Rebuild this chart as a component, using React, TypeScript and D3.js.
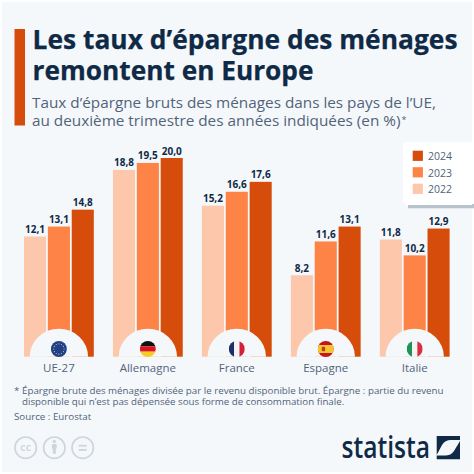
import React from "react";
import * as d3 from "d3";

const categories = ["UE-27", "Allemagne", "France", "Espagne", "Italie"];
const years = ["2022", "2023", "2024"];
const values2022 = [12.1, 18.8, 15.2, 8.2, 11.8];
const values2023 = [13.1, 19.5, 16.6, 11.6, 10.2];
const values2024 = [14.8, 20.0, 17.6, 13.1, 12.9];
const colors = ["#fdc7ac", "#fd8446", "#d64c0a"];
const titleLines = ["Les taux d’épargne des ménages", "remontent en Europe"];
const titleWidths = [425, 281];
const subtitleLines = ["Taux d’épargne bruts des ménages dans les pays de l’UE,", "au deuxième trimestre des années indiquées (en %)"];
const noteLines = ["Épargne brute des ménages divisée par le revenu disponible brut. Épargne : partie du revenu", "disponible qui n’est pas dépensée sous forme de consommation finale."];

const F = "'Open Sans', sans-serif";
const NAVY = "#0f2a46";
const GREY = "#52637a";
const BG = "#f5f8fb";

const x0 = d3.scaleBand<string>().domain(categories).range([24, 449.6]).paddingInner(19.2 / 89.2).paddingOuter(0);
const x1 = d3.scaleBand<string>().domain(years).range([0, x0.bandwidth()]).paddingInner(0.075).paddingOuter(0);
const y = d3.scaleLinear().domain([0, 20]).range([356.7, 158]);
const series = [values2022, values2023, values2024];
const fmt = (v: number) => v.toFixed(1).replace(".", ",");

function Flag({ i, cx, cy }: { i: number; cx: number; cy: number }) {
  const r = 8;
  const id = `fc${i}`;
  const X = cx - r, Y = cy - r, S = 2 * r;
  let body: React.ReactNode = null;
  if (i === 0) {
    body = (
      <g>
        <rect x={X} y={Y} width={S} height={S} fill="#1f3f8f" />
        {d3.range(12).map((k) => (
          <circle key={k} cx={cx + 5.2 * Math.cos((k * Math.PI) / 6)} cy={cy + 5.2 * Math.sin((k * Math.PI) / 6)} r={0.6} fill="#e3c640" />
        ))}
      </g>
    );
  } else if (i === 1) {
    body = (
      <g>
        <rect x={X} y={Y} width={S} height={S / 3} fill="#111" />
        <rect x={X} y={Y + S / 3} width={S} height={S / 3} fill="#d8161c" />
        <rect x={X} y={Y + (2 * S) / 3} width={S} height={S / 3} fill="#fbcb25" />
      </g>
    );
  } else if (i === 2) {
    body = (
      <g>
        <rect x={X} y={Y} width={S / 3} height={S} fill="#1d2f66" />
        <rect x={X + S / 3} y={Y} width={S / 3} height={S} fill="#f4f4f4" />
        <rect x={X + (2 * S) / 3} y={Y} width={S / 3} height={S} fill="#d5203a" />
      </g>
    );
  } else if (i === 3) {
    body = (
      <g>
        <rect x={X} y={Y} width={S} height={S} fill="#c4161c" />
        <rect x={X} y={Y + S / 4} width={S} height={S / 2} fill="#f8c52c" />
        <rect x={cx - 4} y={cy - 2.2} width={3.4} height={4.4} rx={1} fill="#b5402a" />
      </g>
    );
  } else {
    body = (
      <g>
        <rect x={X} y={Y} width={S / 3} height={S} fill="#1d9455" />
        <rect x={X + S / 3} y={Y} width={S / 3} height={S} fill="#f4f4f4" />
        <rect x={X + (2 * S) / 3} y={Y} width={S / 3} height={S} fill="#d5303e" />
      </g>
    );
  }
  return (
    <g>
      <clipPath id={id}>
        <circle cx={cx} cy={cy} r={r} />
      </clipPath>
      <g clipPath={`url(#${id})`}>{body}</g>
    </g>
  );
}

export default function App() {
  return (
    <svg width={474} height={474} style={{ position: "fixed", left: 0, top: 0, background: "#fff" }} fontFamily={F}>
      <rect x={2} y={2} width={470} height={470} fill={BG} />
      <rect x={14.5} y={29} width={10.5} height={96.5} fill="#d64c0a" />
      {titleLines.map((t, i) => (
        <text key={t} x={32.5} y={48.5 + i * 31.5} fontSize={27} fontWeight={700} fill={NAVY} stroke={NAVY} strokeWidth={0.25} textLength={titleWidths[i]} lengthAdjust="spacingAndGlyphs">{t}</text>
      ))}
      {subtitleLines.map((t, i) => (
        <text key={t} x={32} y={107.5 + i * 18.7} fontSize={15.3} fill={GREY}>{t}</text>
      ))}
      <text x={401.5} y={122.5} fontSize={9} fill={GREY}>*</text>

      {categories.map((c, i) =>
        years.map((yr, s) => {
          const v = series[s][i];
          const X = (x0(c) as number) + (x1(yr) as number);
          return (
            <g key={c + yr}>
              <rect x={X} y={y(v)} width={x1.bandwidth()} height={y(0) - y(v)} fill={colors[s]} />
              <text x={X + x1.bandwidth() / 2} y={y(v) - 3.5} textAnchor="middle" fontSize={10} fontWeight={700} fill={NAVY}>{fmt(v)}</text>
            </g>
          );
        })
      )}

      {categories.map((c, i) => {
        const cx = (x0(c) as number) + x0.bandwidth() / 2;
        return (
          <g key={c}>
            <path d={`M${cx - 29.2},356.7 A29.2,28 0 0 1 ${cx + 29.2},356.7 Z`} fill={BG} />
            <Flag i={i} cx={cx} cy={349} />
            <text x={cx} y={371.5} textAnchor="middle" fontSize={11.5} fill={GREY}>{c}</text>
          </g>
        );
      })}

      <rect x={408} y={204} width={66} height={4.3} fill="#b9c3cd" />
      <path d="M403,146 Q403,142 407,142 L472,142 L472,205 L408,205 Q403,205 403,200 Z" fill="#fff" />
      {[2, 1, 0].map((s, k) => (
        <g key={s}>
          <rect x={412.7} y={150.7 + k * 16.5} width={10.2} height={10.2} fill={colors[s]} />
          <text x={428} y={160.2 + k * 16.5} fontSize={10.5} fill={GREY}>{years[s]}</text>
        </g>
      ))}

      <text x={14} y={393.5} fontSize={9.75} fill={GREY}>*</text>
      {noteLines.map((t, i) => (
        <text key={t} x={22} y={393.5 + i * 11.9} fontSize={9.75} fill={GREY}>{t}</text>
      ))}
      <text x={14} y={420} fontSize={9.75} fill={GREY}>Source : Eurostat</text>

      {[25.7, 54.3, 82.7].map((cx, k) => (
        <g key={cx} stroke="#cfd5db" fill="none" strokeWidth={1.7}>
          <circle cx={cx} cy={447.7} r={10.7} />
          {k === 0 && <text x={cx} y={450.8} textAnchor="middle" fontSize={8.5} fontWeight={700} fill="#cfd5db" stroke="none">CC</text>}
          {k === 1 && (
            <g fill="#cfd5db" stroke="none">
              <circle cx={cx} cy={441.5} r={1.7} />
              <rect x={cx - 2.4} y={444} width={4.8} height={5} rx={1} />
              <rect x={cx - 1.6} y={448.8} width={3.2} height={5} />
            </g>
          )}
          {k === 2 && (
            <g fill="#cfd5db" stroke="none">
              <rect x={cx - 4} y={444.8} width={8} height={1.8} />
              <rect x={cx - 4} y={449} width={8} height={1.8} />
            </g>
          )}
        </g>
      ))}

      <text x={341.5} y={458} fontSize={30} fontWeight={600} fill={NAVY} textLength={88.5} lengthAdjust="spacingAndGlyphs">statista</text>
      <path d="M436.7,436 H460 V440 H451 Q445,440 442,445 L436.7,455 Z" fill={NAVY} />
      <path d="M460,441 V459.3 H436.7 V455.5 H445 Q451,455.5 454,451 Z" fill={NAVY} />
    </svg>
  );
}
